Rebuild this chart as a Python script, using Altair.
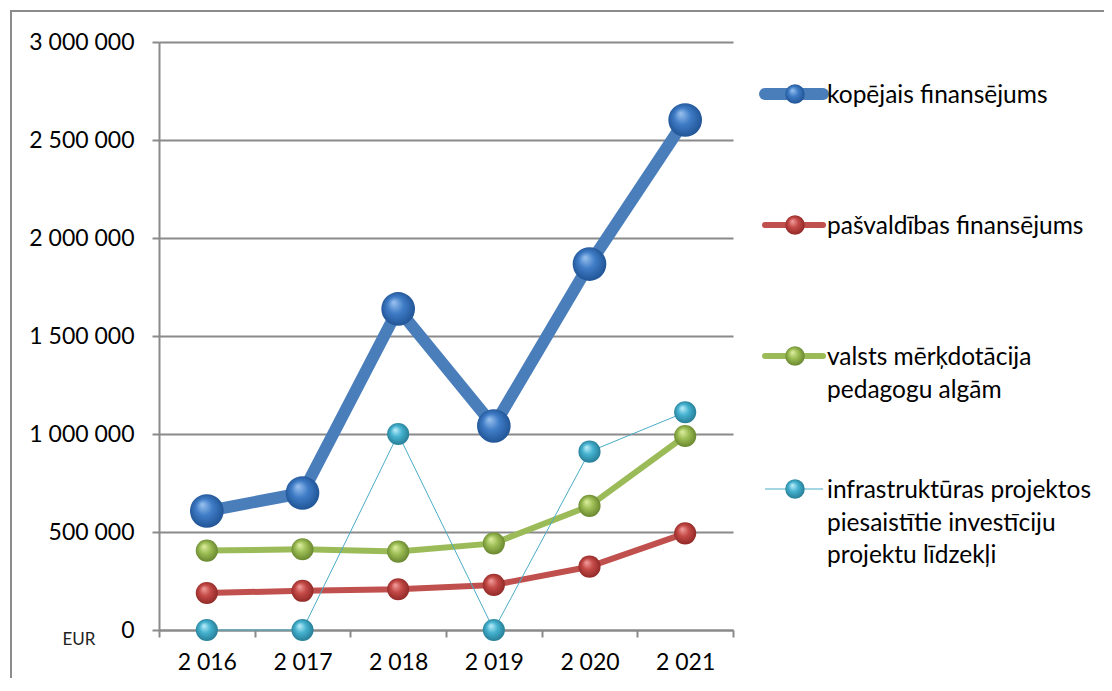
import altair as alt
import pandas as pd

years = ["2 016", "2 017", "2 018", "2 019", "2 020", "2 021"]
kopejais = [607000, 699000, 1638000, 1041000, 1867000, 2602000]
pasvaldibas = [189000, 200000, 208000, 230000, 323000, 493000]
valsts = [405000, 412000, 400000, 442000, 633000, 990000]
infra = [0, 0, 1000000, 0, 910000, 1111000]

names = [
    ["kopējais finansējums"],
    ["pašvaldības finansējums"],
    ["valsts mērķdotācija", "pedagogu algām"],
    ["infrastruktūras projektos", "piesaistītie investīciju", "projektu līdzekļi"],
]
y_ticks = [0, 500000, 1000000, 1500000, 2000000, 2500000, 3000000]

df = pd.DataFrame({"year": years, "kop": kopejais, "pas": pasvaldibas, "val": valsts, "inf": infra})
one = pd.DataFrame({"a": [0]})

FONT = "Lato"
GRID = "#8a8a8a"

def grad(light, mid, dark):
    return alt.RadialGradient(
        gradient="radial", x1=0.36, y1=0.3, r1=0.0, x2=0.5, y2=0.5, r2=0.55,
        stops=[alt.GradientStop(offset=0, color=light),
               alt.GradientStop(offset=0.45, color=mid),
               alt.GradientStop(offset=1, color=dark)])

series = [
    ("kop", "#4A7EBB", 12, 1134, grad("#9cc3f0", "#3f7cc6", "#1d4f8f")),
    ("pas", "#C0504D", 6, 490, grad("#f3a3a1", "#c44a47", "#8a2523")),
    ("val", "#9BBB59", 6, 490, grad("#e0f0a4", "#9dbe55", "#62802a")),
    ("inf", "#4BACC6", 1, 490, grad("#c2f0fb", "#45b2d0", "#23778f")),
]

x_enc = alt.X("year:N", sort=years, title=None,
              scale=alt.Scale(type="band", paddingInner=0, paddingOuter=0),
              axis=alt.Axis(tickBand="extent", tickSize=7, labelAngle=0, labelFontSize=23,
                            labelFont=FONT, labelColor="black", labelPadding=14,
                            domainColor=GRID, domainWidth=2, tickColor=GRID, tickWidth=2,
                            grid=False))

def y_enc(col):
    return alt.Y(f"{col}:Q", title=None,
                 scale=alt.Scale(domain=[0, 3000000], nice=False),
                 axis=alt.Axis(values=y_ticks, tickSize=7, labelFontSize=23, labelFont=FONT,
                               labelColor="black", labelPadding=18,
                               labelExpr="replace(replace(format(datum.value, ','), ',', ' '), ',', ' ')",
                               grid=True, gridColor=GRID, gridWidth=2,
                               domainColor=GRID, domainWidth=2, tickColor=GRID, tickWidth=2))

layers = []
# frame
layers.append(alt.Chart(one).mark_rect(filled=False, stroke="#8c8c8c", strokeWidth=2).encode(
    x=alt.value(-148), x2=alt.value(960), y=alt.value(-31), y2=alt.value(700)))

for col, color, sw, size, g in series:
    layers.append(alt.Chart(df).mark_line(color=color, strokeWidth=sw, strokeJoin="round",
                                           strokeCap="round").encode(x=x_enc, y=y_enc(col)))
for col, color, sw, size, g in series:
    layers.append(alt.Chart(df).mark_point(filled=True, fill=g, opacity=1, size=size,
                                            shape="circle").encode(x=x_enc, y=y_enc(col)))

# legend
leg_y = [52, 183, 314, 447]
for (col, color, sw, size, g), label, ly in zip(series, names, leg_y):
    layers.append(alt.Chart(one).mark_rule(color=color, strokeWidth=sw if sw > 1 else 1,
                                           strokeCap="round" if sw > 1 else "butt").encode(
        x=alt.value(606), x2=alt.value(664), y=alt.value(ly)))
    layers.append(alt.Chart(one).mark_point(filled=True, fill=g, opacity=1, size=380,
                                            shape="circle").encode(
        x=alt.value(636), y=alt.value(ly)))
    layers.append(alt.Chart(one).mark_text(text=label, align="left", baseline="alphabetic",
                                           font=FONT, fontSize=24.5, color="black",
                                           lineHeight=32.5).encode(
        x=alt.value(668), y=alt.value(ly + 9)))

layers.append(alt.Chart(one).mark_text(text="EUR", align="center", baseline="middle",
                                       font=FONT, fontSize=17, color="#222").encode(
    x=alt.value(-80), y=alt.value(598)))

chart = alt.layer(*layers).properties(
    width=574, height=588,
    padding={"left": 151, "top": 34, "right": 371, "bottom": 48},
    autosize=alt.AutoSizeParams(type="none"),
).configure_view(strokeWidth=0)

chart.save("out.html", embed_options={"renderer": "svg", "actions": False})
